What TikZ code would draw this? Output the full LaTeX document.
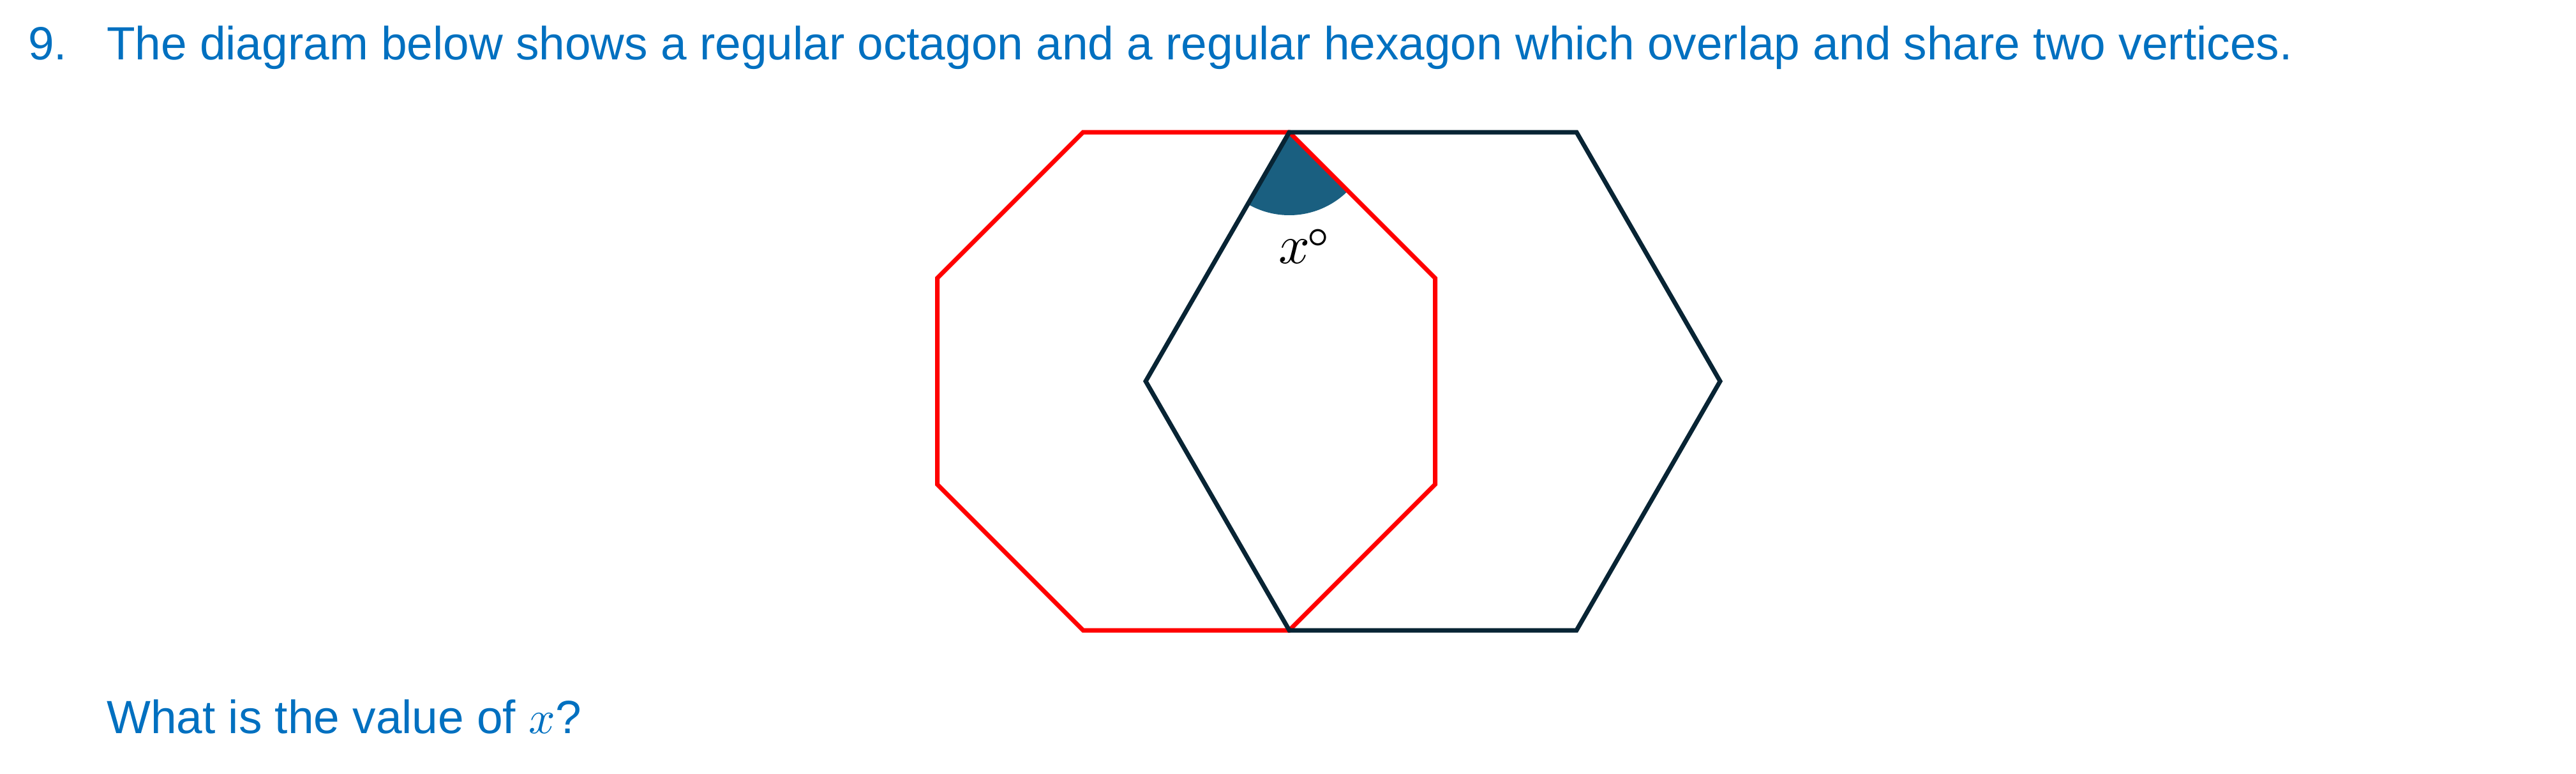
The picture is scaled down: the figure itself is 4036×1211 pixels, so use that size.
\documentclass[tikz,border=0pt]{standalone}
\usepackage{fontspec}
\usepackage{unicode-math}
\setmainfont{Liberation Sans}
\setmathfont{Latin Modern Math}
\definecolor{qblue}{RGB}{0,112,192}
\definecolor{hexcol}{RGB}{8,36,52}
\definecolor{sectorcol}{RGB}{26,95,128}
\definecolor{octred}{RGB}{255,0,0}
\begin{document}
\begin{tikzpicture}[x=1pt,y=-1pt,
  qtext/.style={text=qblue, font=\fontsize{73}{88}\selectfont, anchor=base west, inner sep=0pt},
  octline/.style={draw=octred, line width=7pt},
  hexline/.style={draw=hexcol, line width=7pt},
  anglefill/.style={fill=sectorcol},
  anglelabel/.style={font=\fontsize{86}{96}\selectfont, inner sep=0pt, anchor=base}]
\useasboundingbox (0,0) rectangle (4036,1211);
% shared vertices
\coordinate (A) at (2020,207);
\coordinate (B) at (2020,987);
% octagon
\coordinate (O1) at (1697,207);
\coordinate (O3) at (2248.5,435.5);
\coordinate (O4) at (2248.5,758.5);
\coordinate (O6) at (1697,987);
\coordinate (O7) at (1468.5,758.5);
\coordinate (O8) at (1468.5,435.5);
% hexagon
\coordinate (H2) at (2470,207);
\coordinate (H3) at (2695,597);
\coordinate (H4) at (2470,987);
\coordinate (H6) at (1795,597);
% angle sector
\fill[anglefill] (A) -- plot[domain=45:120, samples=60] ({2020+130*cos(\x)},{207+130*sin(\x)}) -- cycle;
% shapes
\draw[octline] (O1) -- (A) -- (O3) -- (O4) -- (B) -- (O6) -- (O7) -- (O8) -- cycle;
\draw[hexline] (A) -- (H2) -- (H3) -- (H4) -- (B) -- (H6) -- cycle;
% label
\node[anglelabel] (xlab) at (2043,412) {$x\mkern-1mu\raisebox{19pt}{$\circ$}$};
% texts
\node[qtext] (num) at (44,93) {9.};
\node[qtext] (q) at (167,93) {The diagram below shows a regular octagon and a regular hexagon which overlap and share two vertices.};
\node[qtext] (ask) at (167,1148) {What is the value of $x$?};
\end{tikzpicture}
\end{document}
